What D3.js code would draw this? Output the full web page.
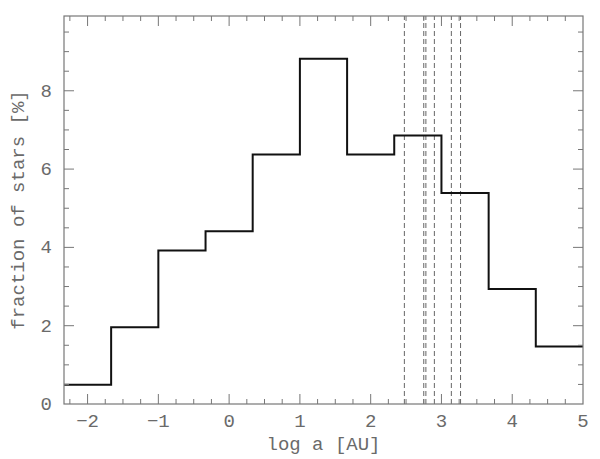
<!DOCTYPE html>
<html><head><meta charset="utf-8">
<script src="https://cdn.jsdelivr.net/npm/d3@7"></script>
<style>body{margin:0;background:#fff}svg{display:block}</style>
</head><body>
<script>
const binEdges = [-2.333, -1.667, -1.0, -0.333, 0.333, 1.0, 1.667, 2.333, 3.0, 3.667, 4.333, 5.0];
const fractions = [0.49, 1.96, 3.92, 4.41, 6.37, 8.82, 6.37, 6.86, 5.39, 2.94, 1.47];
const dashedX = [2.476, 2.75, 2.78, 2.90, 3.14, 3.27];
const xTicks = [-2, -1, 0, 1, 2, 3, 4, 5];
const yTicks = [0, 2, 4, 6, 8];

const W = 600, H = 459;
const m = {l: 64, r: 17, t: 16, b: 55};
const svg = d3.select("body").append("svg").attr("width", W).attr("height", H);
const x = d3.scaleLinear().domain([-2.333, 5]).range([m.l, W - m.r]);
const y = d3.scaleLinear().domain([0, 9.91]).range([H - m.b, m.t]);
const gray = "#777", txt = "#6a6a6a", font = "Liberation Mono, DejaVu Sans Mono, monospace";

// dashed lines
svg.append("g").selectAll("line").data(dashedX).join("line")
  .attr("x1", d => x(d)).attr("x2", d => x(d))
  .attr("y1", y(0)).attr("y2", y.range()[1])
  .attr("stroke", "#666").attr("stroke-width", 1).attr("stroke-dasharray", "5,3");

// histogram step line
const pts = [];
fractions.forEach((v, i) => { pts.push([binEdges[i], v]); pts.push([binEdges[i + 1], v]); });
svg.append("path")
  .attr("d", d3.line().x(d => x(d[0])).y(d => y(d[1]))(pts))
  .attr("fill", "none").attr("stroke", "#111").attr("stroke-width", 2);

// frame
svg.append("rect").attr("x", m.l).attr("y", m.t)
  .attr("width", W - m.r - m.l).attr("height", H - m.b - m.t)
  .attr("fill", "none").attr("stroke", gray).attr("stroke-width", 1.2);

// ticks
const xMinor = d3.range(-2.25, 5.001, 0.25).filter(v => Math.abs(v - Math.round(v)) > 1e-6);
const yMinor = d3.range(0.5, 9.9, 0.5).filter(v => Math.abs(v / 2 - Math.round(v / 2)) > 1e-6);
const tg = svg.append("g").attr("stroke", gray).attr("stroke-width", 1);
function xt(vals, len) {
  vals.forEach(v => {
    tg.append("line").attr("x1", x(v)).attr("x2", x(v)).attr("y1", y(0)).attr("y2", y(0) - len);
    tg.append("line").attr("x1", x(v)).attr("x2", x(v)).attr("y1", m.t).attr("y2", m.t + len);
  });
}
function yt(vals, len) {
  vals.forEach(v => {
    tg.append("line").attr("y1", y(v)).attr("y2", y(v)).attr("x1", m.l).attr("x2", m.l + len);
    tg.append("line").attr("y1", y(v)).attr("y2", y(v)).attr("x1", W - m.r).attr("x2", W - m.r - len);
  });
}
xt(xTicks.slice(0, -1), 10); xt(xMinor, 5);
yt(yTicks.slice(1), 10); yt(yMinor, 5);

// tick labels
svg.append("g").selectAll("text").data(xTicks).join("text")
  .attr("x", d => x(d)).attr("y", y(0) + 23).attr("text-anchor", "middle")
  .attr("font-family", font).attr("font-size", 19).attr("fill", txt)
  .text(d => d < 0 ? "\u2212" + Math.abs(d) : d);
svg.append("g").selectAll("text").data(yTicks).join("text")
  .attr("x", m.l - 12).attr("y", d => y(d) + 6).attr("text-anchor", "end")
  .attr("font-family", font).attr("font-size", 19).attr("fill", txt)
  .text(d => d);

// axis titles
svg.append("text").attr("x", (m.l + W - m.r) / 2).attr("y", 450).attr("text-anchor", "middle")
  .attr("font-family", font).attr("font-size", 19).attr("fill", txt)
  .text("log a [AU]");
svg.append("text").attr("transform", `translate(24,${(m.t + H - m.b) / 2}) rotate(-90)`)
  .attr("text-anchor", "middle")
  .attr("font-family", font).attr("font-size", 19).attr("fill", txt)
  .text("fraction of stars [%]");
</script>
</body></html>
